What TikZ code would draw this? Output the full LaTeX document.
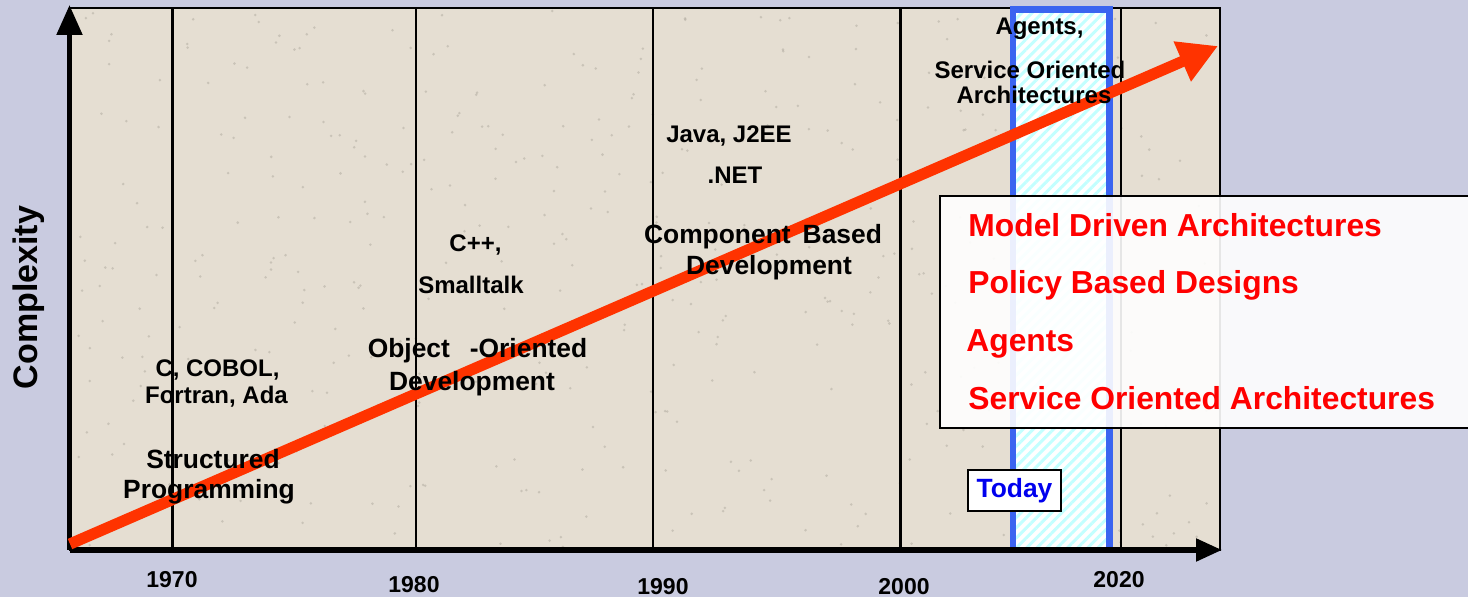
\documentclass[tikz,border=0pt]{standalone}
\usepackage{fontspec}
\setmainfont{Liberation Sans}
\usetikzlibrary{arrows.meta,patterns.meta}

\definecolor{slide}{RGB}{201,203,224}
\definecolor{paper}{RGB}{229,222,210}
\definecolor{speck}{RGB}{150,145,135}
\definecolor{trendred}{RGB}{255,51,0}
\definecolor{todayblue}{RGB}{59,100,240}
\definecolor{todaytext}{RGB}{0,0,238}
\definecolor{stripe}{RGB}{195,255,255}

\begin{document}
\begin{tikzpicture}[x=0.5pt,y=-0.5pt,
        tech/.style={font=\bfseries\fontsize{12}{14}\selectfont, anchor=base, inner sep=0pt},
        era/.style={font=\bfseries\fontsize{13.2}{15}\selectfont, anchor=base, inner sep=0pt},
        yearlbl/.style={font=\bfseries\fontsize{11.5}{14}\selectfont, anchor=base, inner sep=0pt},
        trend/.style={font=\bfseries\fontsize{15.9}{18}\selectfont, text=red, anchor=base west, inner sep=0pt},
        decade/.style={line width=1.25pt},
        axis/.style={line width=2.6pt},
        todaybox/.style={draw, line width=1pt, fill=white, text=todaytext, inner sep=0pt,
            minimum width=46.5pt, minimum height=20.5pt, font=\bfseries\fontsize{13.2}{15}\selectfont}]
                \useasboundingbox (0,0) rectangle (1468,597);
                \fill[slide] (0,0) rectangle (1468,597);

                % timeline panel
                \draw[line width=1.25pt, fill=paper] (70,8) rectangle (1220,550);
                \pgfmathsetseed{11}
                \foreach \i in {1,...,450}
                    \fill[speck, opacity=0.35] ({72+1146*rnd},{10+538*rnd}) circle (0.7pt);
                \foreach \x in {172.5,416,653,900.5,1121}
                    \draw[decade] (\x,8) -- (\x,550);

                % today column
                \fill[white] (1013,9.5) rectangle (1109.5,550);
                \fill[pattern={Lines[angle=45,distance=3.6pt,line width=1.5pt]}, pattern color=stripe]
                    (1013,9.5) rectangle (1109.5,550);
                \draw[todayblue, line width=3.2pt] (1013,9.5) rectangle (1109.5,550);

                % axes
                \coordinate (origin) at (69.5,550);
                \coordinate (ytip) at (69.5,5);
                \coordinate (xtip) at (1222,550);
                \draw[axis, -{Triangle[length=15pt,width=12.5pt]}] (origin) -- (ytip);
                \draw[axis, -{Triangle[length=13pt,width=11pt]}] (origin) -- (xtip);

                % growth arrow
                \coordinate (trendstart) at (70,544);
                \coordinate (trendtip) at (1218,46);
                \draw[trendred, line width=5.6pt, -{Triangle[length=19.5pt,width=20.5pt]}] (trendstart) -- (trendtip);

                \node[rotate=90, anchor=base, inner sep=0pt, font=\bfseries\fontsize{17}{20}\selectfont] (ylabel) at (38,297.5) {Complexity};

                \node[tech] (cobol) at (217.5,377) {C, COBOL,};
                \node[tech] (fortran) at (216.5,404) {Fortran, Ada};
                \node[era] (structured) at (213,469) {Structured};
                \node[era] (programming) at (209,499) {Programming};

                \node[tech] (cpp) at (475.5,252) {C++,};
                \node[tech] (smalltalk) at (471,294) {Smalltalk};
                \node[era] (object) at (477.5,358) {Object\hspace{10pt}-Oriented};
                \node[era] (oodev) at (472,391) {Development};

                \node[tech] (java) at (729,143) {Java, J2EE};
                \node[tech] (dotnet) at (735,184) {.NET};
                \node[era] (component) at (763,244) {Component\hspace{6pt}Based};
                \node[era] (cbdev) at (769,275) {Development};

                \node[tech] (agents) at (1039.5,35) {Agents,};
                \node[tech] (soa) at (1030,79) {Service Oriented};
                \node[tech] (soaarch) at (1034,104) {Architectures};

                \node[yearlbl] (y1970) at (172,588) {1970};
                \node[yearlbl] (y1980) at (414,593) {1980};
                \node[yearlbl] (y1990) at (663,595) {1990};
                \node[yearlbl] (y2000) at (904,595) {2000};
                \node[yearlbl] (y2020) at (1119,588) {2020};

                % trends box
                \fill[white, opacity=0.9] (940,196) rectangle (1468,428);
                \draw[line width=1.25pt] (1468,196) -- (940,196) -- (940,428) -- (1468,428);
                \node[trend] (mda) at (968,237) {Model Driven Architectures};
                \node[trend] (pbd) at (968,294) {Policy Based Designs};
                \node[trend] (agt) at (966,352) {Agents};
                \node[trend] (sva) at (968,410) {Service Oriented Architectures};

                \node[todaybox] (today) at (1014.5,490.5) {Today};
            \end{tikzpicture}
\end{document}
